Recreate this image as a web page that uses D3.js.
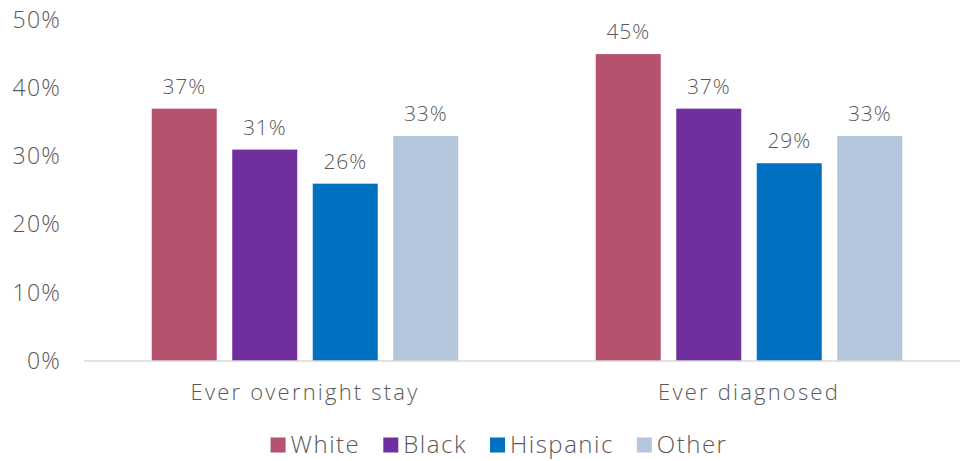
<!DOCTYPE html>
<html>
<head>
<meta charset="utf-8">
<script src="https://cdn.jsdelivr.net/npm/d3@7"></script>
<style>
  body { margin: 0; background: #fff; }
  svg { display: block; font-family: "Open Sans", sans-serif; font-weight: 300; }
</style>
</head>
<body>
<svg id="chart" width="960" height="461"></svg>
<script>
// Share of each group, by measure (percent)
const categories = ["Ever overnight stay", "Ever diagnosed"];
const seriesNames = ["White", "Black", "Hispanic", "Other"];
const white    = [37, 45];
const black    = [31, 37];
const hispanic = [26, 29];
const other    = [33, 33];
const yTicks = [0, 10, 20, 30, 40, 50];
const colors = ["#B5536F", "#6F2F9F", "#0070C0", "#B4C6DC"];

const seriesValues = [white, black, hispanic, other];
const rows = categories.map((c, i) => ({
  category: c,
  values: seriesNames.map((s, j) => ({ series: s, value: seriesValues[j][i] }))
}));

const svg = d3.select("#chart");
const textColor = "#595959";

const x0 = d3.scaleBand().domain(categories).range([83, 971]).padding(0);
const groupWidth = 306.5;
const x1 = d3.scaleBand().domain(seriesNames).range([0, groupWidth]).paddingInner(0.1925).paddingOuter(0);
const y = d3.scaleLinear().domain([0, 50]).range([361, 20]);
const color = d3.scaleOrdinal().domain(seriesNames).range(colors);

// y-axis labels (no axis line)
const yAxis = svg.append("g")
  .attr("transform", "translate(61,0)")
  .call(d3.axisLeft(y).tickValues(yTicks).tickFormat(d => d + "%").tickSize(0).tickPadding(0));
yAxis.select(".domain").remove();
yAxis.selectAll("text")
  .attr("fill", textColor)
  .style("font-size", "23px")
  .style("letter-spacing", "1.2px")
  .style("font-family", "Open Sans, sans-serif");

// bars
const groups = svg.append("g").selectAll("g")
  .data(rows).join("g")
  .attr("transform", d => `translate(${x0(d.category) + (x0.bandwidth() - groupWidth) / 2},0)`);

groups.selectAll("rect")
  .data(d => d.values).join("rect")
  .attr("x", d => x1(d.series))
  .attr("width", x1.bandwidth())
  .attr("y", d => y(d.value))
  .attr("height", d => y(0) - y(d.value))
  .attr("fill", d => color(d.series));

groups.selectAll("text")
  .data(d => d.values).join("text")
  .attr("x", d => x1(d.series) + x1.bandwidth() / 2)
  .attr("y", d => y(d.value) - 15)
  .attr("text-anchor", "middle")
  .attr("fill", textColor)
  .style("font-size", "21px")
  .style("letter-spacing", "0.8px")
  .text(d => d.value + "%");

// baseline and category axis
const xAxis = svg.append("g")
  .attr("transform", `translate(0,${y(0)})`)
  .call(d3.axisBottom(x0).tickSize(0).tickPadding(23));
xAxis.select(".domain").attr("stroke", "#D9D9D9").attr("stroke-width", 1.5)
  .attr("d", "M84,0H960");
xAxis.selectAll("text")
  .attr("fill", textColor)
  .style("font-size", "22px")
  .style("letter-spacing", "2.2px")
  .style("font-family", "Open Sans, sans-serif");

// legend
const legend = svg.append("g").attr("transform", "translate(0,445)");
const items = legend.selectAll("g").data(seriesNames).join("g");
items.append("rect").attr("width", 15).attr("height", 15).attr("y", -7.5)
  .attr("fill", d => color(d));
items.append("text").attr("x", 20).attr("dy", "0.35em")
  .attr("fill", textColor).style("font-size", "24px").style("letter-spacing", "1.5px")
  .text(d => d);
let offsets = [], total = 0;
const gap = 23;
items.each(function (d, i) {
  const w = 20 + d3.select(this).select("text").node().getComputedTextLength();
  offsets.push(total);
  total += w + (i < seriesNames.length - 1 ? gap : 0);
});
const start = 499 - total / 2;
items.attr("transform", (d, i) => `translate(${start + offsets[i]},0)`);
</script>
</body>
</html>
